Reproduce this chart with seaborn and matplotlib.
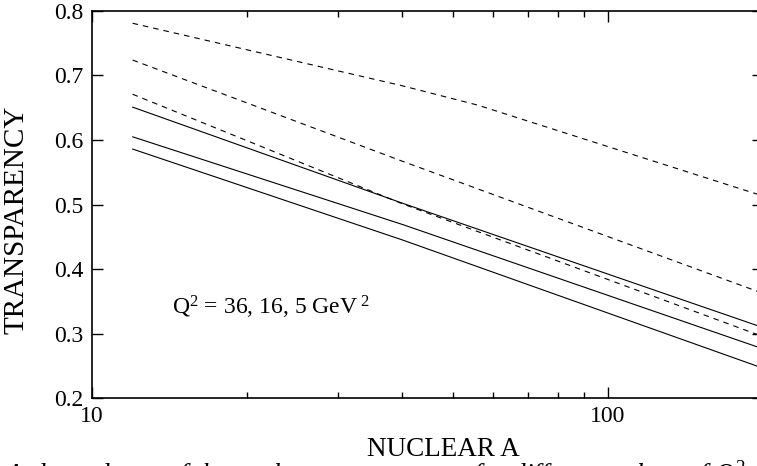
import pandas as pd
import matplotlib.pyplot as plt
import seaborn as sns

# nuclear mass number A (log axis) and transparency curves
a_top = [12, 40, 56, 200]
dash_top = [0.781, 0.684, 0.654, 0.513]
a_pts = [12, 40, 200]
dash_mid = [0.724, 0.567, 0.362]
dash_low = [0.671, 0.501, 0.295]
solid_top = [0.651, 0.502, 0.309]
solid_mid = [0.605, 0.469, 0.276]
solid_low = [0.586, 0.445, 0.246]

sns.set_theme(style="ticks")
plt.rcParams['font.family'] = ['Liberation Serif', 'DejaVu Serif']
plt.rcParams['mathtext.fontset'] = 'custom'
plt.rcParams['mathtext.rm'] = 'Liberation Serif'
plt.rcParams['mathtext.it'] = 'Liberation Serif:italic'

fig = plt.figure(figsize=(7.57, 4.66), dpi=100)
ax = fig.add_axes([0.1211, 0.1459, 0.8873, 0.8305])

dash = (0, (5, 4.5))
curves = [(a_top, dash_top, dash), (a_pts, dash_mid, dash), (a_pts, dash_low, dash),
          (a_pts, solid_top, '-'), (a_pts, solid_mid, '-'), (a_pts, solid_low, '-')]
for xs, ys, ls in curves:
    df = pd.DataFrame({'A': xs, 'T': ys})
    sns.lineplot(data=df, x='A', y='T', ax=ax, color='black', lw=0.8, linestyle=ls)

ax.set_xscale('log')
ax.set_xlim(10, 200)
ax.set_ylim(0.2, 0.8)
ax.set_xticks([10, 100])
ax.set_xticklabels(['10', '100'])
ax.set_yticks([0.2, 0.3, 0.4, 0.5, 0.6, 0.7, 0.8])
ax.tick_params(which='both', direction='in', top=True, right=True, labelsize=17,
               width=1, color='black', labelcolor='black')
ax.tick_params(which='major', length=8, pad=6)
ax.tick_params(which='minor', length=4.5)
ax.tick_params(axis='y', which='minor', left=False, right=False)
for s in ax.spines.values():
    s.set_color('black')
    s.set_linewidth(1.2)
# the right frame edge falls just outside the picture
ax.spines['right'].set_visible(False)

ax.set_xlabel('NUCLEAR A', fontsize=19.5, color='black')
ax.set_ylabel('TRANSPARENCY', fontsize=21, color='black')
ax.xaxis.set_label_coords(0.524, -0.10)
ax.yaxis.set_label_coords(-0.093, 0.46)

ax.text(0.119, 0.215, r'Q$^{2}$ = 36, 16, 5 GeV$^{\ 2}$', transform=ax.transAxes,
        fontsize=17, color='black')

fig.text(0.005, -0.036, r'A-dependence of the nuclear transparency for different values of $Q^2$',
         fontsize=19.5, style='italic', color='black', ha='left', va='baseline')

fig.savefig('out.png', dpi=100)
